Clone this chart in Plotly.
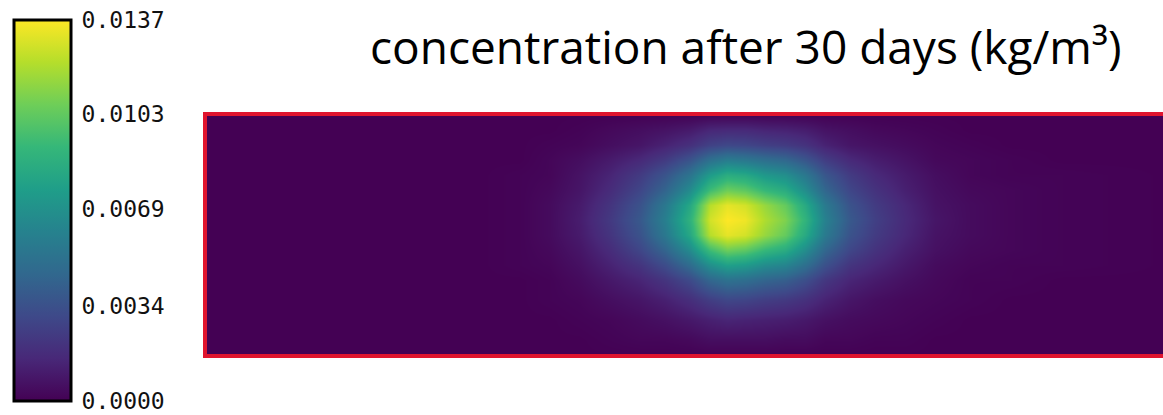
import plotly.graph_objects as go
import numpy as np

# grid positions (arbitrary length units across the domain)
x_pos = [0, 275, 315, 345, 375, 405, 435, 460, 485, 505, 522, 540, 560, 580, 600, 620, 645, 670, 700, 730, 765, 805, 855, 970]
y_pos = [0, 16, 31, 46, 61, 76, 91, 106, 121, 136, 151, 166, 186, 206, 226, 242]

# concentration in units of 1e-4 kg/m^3
conc_e4 = [
    [0, 0, 0, 0, 0, 0, 0, 0, 0, 0, 0, 0, 0, 0, 0, 0, 0, 0, 0, 0, 0, 0, 0, 0],
    [0, 0, 0, 0, 1, 3, 5, 7, 10, 15, 16, 16, 14, 13, 11, 7, 5, 3, 2, 1, 0, 0, 0, 0],
    [0, 0, 0, 1, 2, 5, 8, 13, 19, 27, 30, 29, 26, 24, 20, 13, 8, 6, 4, 2, 1, 0, 0, 0],
    [0, 0, 0, 2, 5, 10, 16, 24, 36, 51, 58, 55, 50, 46, 37, 25, 16, 11, 7, 3, 2, 1, 0, 0],
    [0, 0, 1, 2, 7, 14, 24, 36, 53, 75, 85, 82, 73, 68, 55, 37, 24, 16, 10, 5, 2, 1, 1, 0],
    [0, 0, 1, 3, 8, 17, 29, 44, 66, 94, 106, 102, 91, 84, 67, 45, 29, 20, 12, 6, 3, 2, 1, 0],
    [0, 0, 1, 4, 10, 21, 35, 55, 82, 122, 132, 128, 115, 104, 83, 56, 35, 24, 15, 7, 4, 2, 1, 0],
    [0, 0, 1, 4, 11, 23, 38, 59, 88, 128, 137, 134, 120, 110, 89, 60, 38, 26, 16, 8, 4, 2, 1, 0],
    [0, 0, 1, 4, 10, 21, 35, 55, 82, 122, 132, 128, 115, 104, 83, 56, 35, 24, 15, 7, 4, 2, 1, 0],
    [0, 0, 1, 3, 8, 17, 29, 44, 66, 94, 106, 102, 91, 84, 67, 45, 29, 20, 12, 6, 3, 2, 1, 0],
    [0, 0, 1, 2, 6, 13, 21, 32, 48, 68, 77, 74, 66, 62, 50, 34, 21, 15, 9, 4, 2, 1, 1, 0],
    [0, 0, 0, 1, 4, 9, 14, 21, 31, 45, 51, 49, 44, 41, 33, 22, 14, 10, 6, 3, 1, 1, 0, 0],
    [0, 0, 0, 1, 2, 5, 8, 12, 18, 25, 29, 28, 25, 23, 19, 13, 8, 5, 3, 2, 1, 0, 0, 0],
    [0, 0, 0, 0, 1, 2, 4, 6, 9, 12, 14, 13, 12, 11, 9, 6, 4, 3, 2, 1, 0, 0, 0, 0],
    [0, 0, 0, 0, 0, 1, 2, 2, 3, 5, 5, 5, 5, 4, 4, 2, 2, 1, 1, 0, 0, 0, 0, 0],
    [0, 0, 0, 0, 0, 0, 0, 0, 0, 0, 0, 0, 0, 0, 0, 0, 0, 0, 0, 0, 0, 0, 0, 0],
]

tick_vals = [0.0, 0.0034, 0.0069, 0.0103, 0.0137]
tick_text = ["0.0000", "0.0034", "0.0069", "0.0103", "0.0137"]
c_max = 0.0137
title_text = "concentration after 30 days (kg/m³)"

z = np.array(conc_e4, dtype=float) * 1e-4

W, H = 1163, 415
ML, MT, MB = 205, 114, 59
PW, PH = W - ML, H - MT - MB

fig = go.Figure()
fig.add_trace(go.Heatmap(
    x=x_pos, y=y_pos, z=z,
    zmin=0, zmax=c_max,
    colorscale="Viridis",
    zsmooth="best",
    colorbar=dict(
        x=(13.5 - ML) / PW, xanchor="left", xpad=0,
        y=(H - MB - 210) / PH, yanchor="middle", ypad=0,
        lenmode="pixels", len=381,
        thickness=57,
        outlinecolor="black", outlinewidth=3,
        tickvals=tick_vals, ticktext=tick_text,
        ticks="outside", ticklen=5, tickcolor="rgba(0,0,0,0)",
        ticklabeloverflow="allow",
        tickfont=dict(family="DejaVu Sans Mono", size=23, color="#111111"),
    ),
))

fig.add_shape(type="rect", xref="paper", yref="paper",
              x0=0, x1=1.05, y0=0, y1=1,
              line=dict(color="#e0142e", width=4), layer="above")

fig.add_annotation(text=title_text, xref="paper", yref="paper",
                   x=(746 - ML) / PW, y=1 + (MT - 46) / PH,
                   xanchor="center", yanchor="middle", showarrow=False,
                   font=dict(family="Open Sans", size=46, color="black"))

fig.update_xaxes(visible=False, range=[0, 958])
fig.update_yaxes(visible=False, range=[242, 0])
fig.update_layout(
    width=W, height=H,
    margin=dict(l=ML, r=0, t=MT, b=MB),
    paper_bgcolor="white", plot_bgcolor="white",
    showlegend=False,
)
fig.write_html("out.html", config={"displayModeBar": False},
               post_script="document.body.style.margin='0';document.body.style.overflow='hidden';")
